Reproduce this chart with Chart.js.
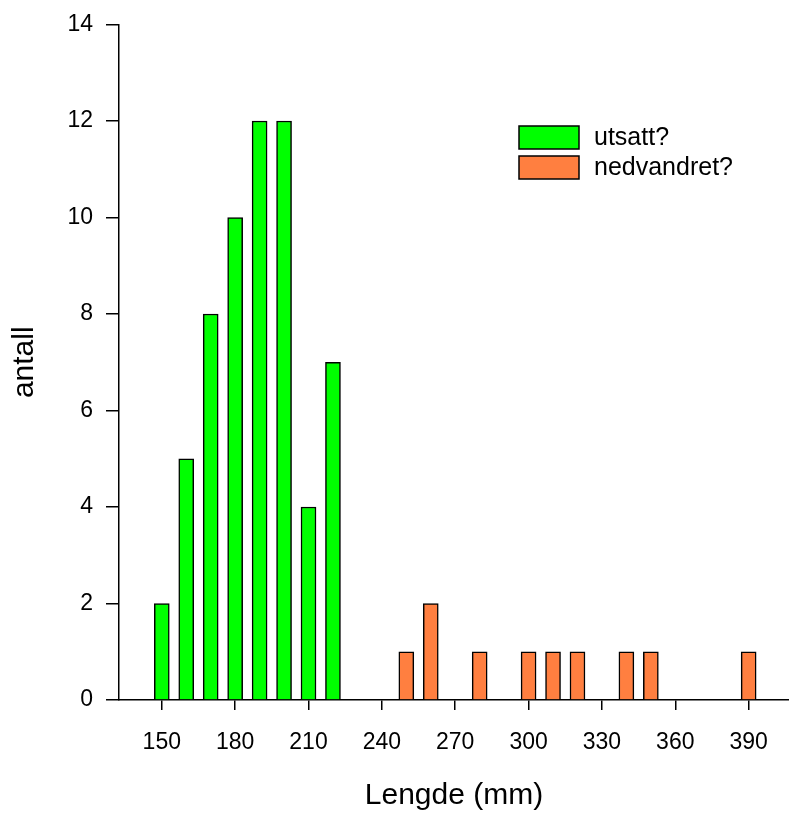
<!DOCTYPE html>
<html>
<head>
<meta charset="utf-8">
<script src="https://cdn.jsdelivr.net/npm/chart.js@4/dist/chart.umd.min.js"></script>
<style>
  html, body { margin: 0; padding: 0; background: #fff; }
  #wrap { width: 789px; height: 816px; position: relative; }
</style>
</head>
<body>
<div id="wrap"><canvas id="chart"></canvas></div>
<script>
// --- DATA ---
const utsattLengths = [150, 160, 170, 180, 190, 200, 210, 220];
const utsattCounts  = [2, 5, 8, 10, 12, 12, 4, 7];
const nedLengths = [250, 260, 280, 300, 310, 320, 340, 350, 390];
const nedCounts  = [1, 2, 1, 1, 1, 1, 1, 1, 1];
const xTicks = [150, 180, 210, 240, 270, 300, 330, 360, 390];
const yTicks = [0, 2, 4, 6, 8, 10, 12, 14];
const seriesNames = ["utsatt?", "nedvandret?"];

const FONT = "'Liberation Sans', Arial, sans-serif";

// --- legend drawn in the upper right, like the original ---
const boxLegend = {
  id: "boxLegend",
  afterDraw(chart) {
    const ctx = chart.ctx;
    ctx.save();
    chart.data.datasets.forEach((ds, i) => {
      const x = 519, y = 126 + i * 30;
      ctx.fillStyle = ds.backgroundColor;
      ctx.fillRect(x, y, 60, 23);
      ctx.strokeStyle = "#000";
      ctx.lineWidth = 1.5;
      ctx.strokeRect(x, y, 60, 23);
      ctx.fillStyle = "#000";
      ctx.font = "25px " + FONT;
      ctx.textBaseline = "middle";
      ctx.fillText(ds.label, x + 75, y + 12);
    });
    ctx.restore();
  }
};

const ctx = document.getElementById("chart").getContext("2d");
new Chart(ctx, {
  type: "bar",
  data: {
    datasets: [
      {
        label: seriesNames[0],
        data: utsattLengths.map((l, i) => ({ x: l, y: utsattCounts[i] })),
        backgroundColor: "#00ff00",
        borderColor: "#000",
        borderWidth: 1.5,
        barThickness: 15,
        grouped: false
      },
      {
        label: seriesNames[1],
        data: nedLengths.map((l, i) => ({ x: l, y: nedCounts[i] })),
        backgroundColor: "#ff7f40",
        borderColor: "#000",
        borderWidth: 1.5,
        barThickness: 15,
        grouped: false
      }
    ]
  },
  options: {
    responsive: true,
    maintainAspectRatio: false,
    animation: false,
    layout: { padding: { top: 24, right: 0, left: 0, bottom: 0 } },
    plugins: { legend: { display: false }, tooltip: { enabled: false } },
    scales: {
      x: {
        type: "linear",
        offset: false,
        min: 132.5,
        max: 406.5,
        afterBuildTicks(scale) { scale.ticks = xTicks.map(v => ({ value: v })); },
        afterFit(scale) { scale.height = 116; },
        grid: { display: true, offset: false, drawOnChartArea: false, drawTicks: true, tickLength: 10, color: "#000", lineWidth: 1.5 },
        border: { display: true, color: "#000", width: 1.5 },
        ticks: { color: "#000", font: { family: FONT, size: 23 }, padding: 19, maxRotation: 0, autoSkip: false },
        title: { display: true, text: "Lengde (mm)", color: "#000", font: { family: FONT, size: 30 }, padding: { top: 10, bottom: 2 } }
      },
      y: {
        min: 0,
        max: 14,
        afterBuildTicks(scale) { scale.ticks = yTicks.map(v => ({ value: v })); },
        afterFit(scale) { scale.width = 119; },
        grid: { display: true, offset: false, drawOnChartArea: false, drawTicks: true, tickLength: 13, color: "#000", lineWidth: 1.5 },
        border: { display: true, color: "#000", width: 1.5 },
        ticks: { color: "#000", font: { family: FONT, size: 23, lineHeight: 1 }, padding: 13 },
        title: { display: true, text: "antall", color: "#000", font: { family: FONT, size: 30 }, padding: { top: 7, bottom: 0 } }
      }
    }
  },
  plugins: [boxLegend]
});
</script>
</body>
</html>
